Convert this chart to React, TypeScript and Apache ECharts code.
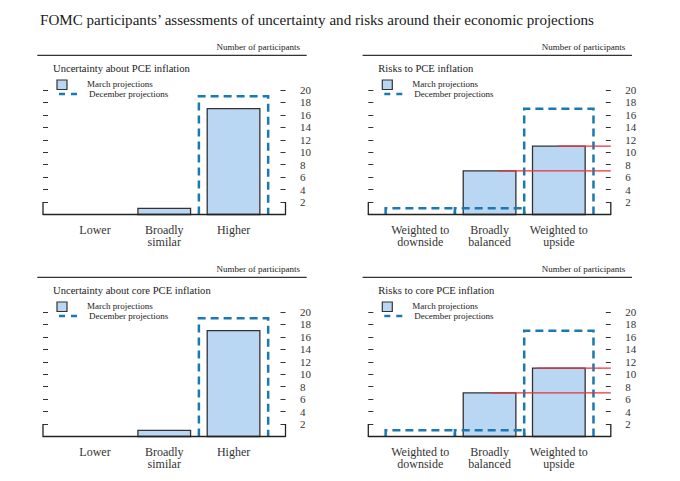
import React, { useEffect, useRef } from "react";
import * as echarts from "echarts";

// ---- Data ----
const uncertaintyCategories = ["Lower", "Broadly\nsimilar", "Higher"];
const riskCategories = ["Weighted to\ndownside", "Broadly\nbalanced", "Weighted to\nupside"];

const pceUncertaintyMarch = [0, 1, 17];
const pceUncertaintyDecember = [0, 0, 19];
const pceRisksMarch = [0, 7, 11];
const pceRisksDecember = [1, 1, 17];

const coreUncertaintyMarch = [0, 1, 17];
const coreUncertaintyDecember = [0, 0, 19];
const coreRisksMarch = [0, 7, 11];
const coreRisksDecember = [1, 1, 17];

// red reference lines drawn over the risk panels: [start position (category units), level]
const pceRisksRedLines = [[1.12, 7], [1.99, 11]];
const coreRisksRedLines = [[1.03, 7], [1.68, 11]];

const yMin = 0;
const yMax = 20;
const yInterval = 2;

const MAIN_TITLE = "FOMC participants\u2019 assessments of uncertainty and risks around their economic projections";

// ---- Styles ----
const FONT = '"Liberation Serif", "Times New Roman", serif';
const TEXT = "#222";
const BAR_FILL = "#b9d6f3";
const BAR_STROKE = "#333";
const DEC_COLOR = "#1a78b2";
const RED = "#e8333c";
const X_MIN = -0.75;
const X_MAX = 2.75;
const BAR_HALF = 0.38;
const GRID_W = 242.5;
const GRID_H = 124.5;

type Panel = {
  title: string;
  cats: string[];
  march: number[];
  dec: number[];
  red: number[][] | null;
  left: number;
  top: number;
};

const panels: Panel[] = [
  { title: "Uncertainty about PCE inflation", cats: uncertaintyCategories, march: pceUncertaintyMarch, dec: pceUncertaintyDecember, red: null, left: 43, top: 90 },
  { title: "Risks to PCE inflation", cats: riskCategories, march: pceRisksMarch, dec: pceRisksDecember, red: pceRisksRedLines, left: 368.3, top: 90 },
  { title: "Uncertainty about core PCE inflation", cats: uncertaintyCategories, march: coreUncertaintyMarch, dec: coreUncertaintyDecember, red: null, left: 43, top: 312 },
  { title: "Risks to core PCE inflation", cats: riskCategories, march: coreRisksMarch, dec: coreRisksDecember, red: coreRisksRedLines, left: 368.3, top: 312 },
];

function buildOption() {
  const grid: any[] = [];
  const xAxis: any[] = [];
  const yAxis: any[] = [];
  const series: any[] = [];
  const graphic: any[] = [];

  graphic.push({
    type: "text",
    x: 40,
    y: 20,
    style: { text: MAIN_TITLE, font: `15.1px ${FONT}`, fill: "#1a1a1a", textVerticalAlign: "middle" },
  });

  panels.forEach((p, gi) => {
    const dx = p.left - 43;
    const dy = p.top - 90;
    grid.push({ left: p.left, top: p.top, width: GRID_W, height: GRID_H, containLabel: false });
    xAxis.push({
      gridIndex: gi,
      type: "value",
      min: X_MIN,
      max: X_MAX,
      z: 4,
      axisLine: { show: true, onZero: false, lineStyle: { color: "#222", width: 1.3 } },
      axisTick: { show: false },
      splitLine: { show: false },
      axisLabel: {
        customValues: [0, 1, 2],
        formatter: (v: number) => p.cats[Math.round(v)] ?? "",
        fontFamily: FONT,
        fontSize: 12,
        lineHeight: 12.5,
        color: "#333",
        margin: 9,
      },
    });
    const yBase = {
      gridIndex: gi,
      type: "value",
      min: yMin,
      max: yMax,
      interval: yInterval,
      splitLine: { show: false },
      axisTick: { show: true, inside: true, length: 5, lineStyle: { color: "#333", width: 1 } },
    };
    yAxis.push({ ...yBase, position: "left", axisLine: { show: false, onZero: false }, axisLabel: { show: false } });
    yAxis.push({
      ...yBase,
      position: "right",
      axisLine: { show: false, onZero: false },
      axisLabel: {
        show: true,
        margin: 14.5,
        fontFamily: FONT,
        fontSize: 11,
        color: "#333",
        formatter: (v: number) => (v === 0 ? "" : String(v)),
      },
    });

    // March bars
    series.push({
      type: "custom",
      xAxisIndex: gi,
      yAxisIndex: gi * 2,
      z: 2,
      data: p.march.map((v, i) => [i, v]),
      encode: { x: 0, y: 1 },
      renderItem: (params: any, api: any) => {
        const i = api.value(0);
        const v = api.value(1);
        if (!v) return null;
        const a = api.coord([i - BAR_HALF, v]);
        const b = api.coord([i + BAR_HALF, 0]);
        return {
          type: "rect",
          shape: { x: a[0], y: a[1], width: b[0] - a[0], height: b[1] - a[1] },
          style: { fill: BAR_FILL, stroke: BAR_STROKE, lineWidth: 1.3 },
        };
      },
    });

    // December dashed outlines
    series.push({
      type: "custom",
      xAxisIndex: gi,
      yAxisIndex: gi * 2,
      z: 3,
      data: p.dec.map((v, i) => [i, v]),
      encode: { x: 0, y: 1 },
      renderItem: (params: any, api: any) => {
        const i = api.value(0);
        const v = api.value(1);
        if (!v) return null;
        const pts = [
          api.coord([i - 0.5, 0]),
          api.coord([i - 0.5, v]),
          api.coord([i + 0.5, v]),
          api.coord([i + 0.5, 0]),
        ];
        return {
          type: "polyline",
          shape: { points: pts },
          style: { fill: "none", stroke: DEC_COLOR, lineWidth: 2.5, lineDash: [8, 5] },
        };
      },
    });

    // bottom brackets of the axes
    series.push({
      type: "custom",
      xAxisIndex: gi,
      yAxisIndex: gi * 2,
      z: 4,
      data: [[X_MIN, 2], [X_MAX, 2]],
      encode: { x: 0, y: 1 },
      renderItem: (params: any, api: any) => {
        const x = api.value(0);
        const v = api.value(1);
        const a = api.coord([x, 0]);
        const b = api.coord([x, v]);
        return {
          type: "line",
          shape: { x1: a[0], y1: a[1], x2: b[0], y2: b[1] },
          style: { stroke: "#222", lineWidth: 1.3 },
        };
      },
    });

    if (p.red) {
      series.push({
        type: "custom",
        xAxisIndex: gi,
        yAxisIndex: gi * 2,
        z: 5,
        data: p.red,
        encode: { x: 0, y: 1 },
        renderItem: (params: any, api: any) => {
          const s = api.value(0);
          const v = api.value(1);
          const a = api.coord([s, v]);
          const b = api.coord([X_MAX, v]);
          return {
            type: "line",
            shape: { x1: a[0], y1: a[1], x2: b[0], y2: b[1] },
            style: { stroke: RED, lineWidth: 1.2 },
          };
        },
      });
    }

    // header, title, legend
    graphic.push(
      {
        type: "text",
        x: 300 + dx,
        y: 47.3 + dy,
        style: { text: "Number of participants", font: `9px ${FONT}`, fill: TEXT, textAlign: "right", textVerticalAlign: "middle" },
      },
      {
        type: "line",
        shape: { x1: 37.3 + dx, y1: 55.3 + dy, x2: 306.7 + dx, y2: 55.3 + dy },
        style: { stroke: "#333", lineWidth: 1.2 },
      },
      {
        type: "text",
        x: 53 + dx,
        y: 68.7 + dy,
        style: { text: p.title, font: `10.6px ${FONT}`, fill: TEXT, textVerticalAlign: "middle" },
      },
      {
        type: "rect",
        shape: { x: 57 + dx, y: 80 + dy, width: 10, height: 9.5 },
        style: { fill: BAR_FILL, stroke: BAR_STROKE, lineWidth: 1.2 },
      },
      {
        type: "text",
        x: 87 + dx,
        y: 84 + dy,
        style: { text: "March projections", font: `9px ${FONT}`, fill: TEXT, textVerticalAlign: "middle" },
      },
      {
        type: "line",
        shape: { x1: 59 + dx, y1: 94 + dy, x2: 77 + dx, y2: 94 + dy },
        style: { stroke: DEC_COLOR, lineWidth: 2.5, lineDash: [6, 6] },
      },
      {
        type: "text",
        x: 89 + dx,
        y: 94 + dy,
        style: { text: "December projections", font: `9px ${FONT}`, fill: TEXT, textVerticalAlign: "middle" },
      }
    );
  });

  return {
    animation: false,
    backgroundColor: "#ffffff",
    grid,
    xAxis,
    yAxis,
    series,
    graphic,
  };
}

export default function App() {
  const ref = useRef<HTMLDivElement>(null);
  useEffect(() => {
    document.body.style.margin = "0";
    if (!ref.current) return;
    const chart = echarts.init(ref.current, undefined, { renderer: "svg" });
    chart.setOption(buildOption() as any);
    return () => chart.dispose();
  }, []);
  return <div ref={ref} style={{ width: 680, height: 481 }} />;
}
